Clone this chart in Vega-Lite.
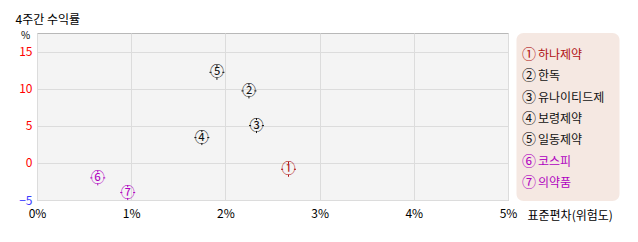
{
  "$schema": "https://vega.github.io/schema/vega-lite/v6.json",
  "autosize": {"type": "pad"},
  "padding": {"left": 15, "top": 13, "right": 12, "bottom": 8},
  "background": "#ffffff",
  "config": {"font": "Noto Sans CJK KR", "view": {"stroke": null}},
  "bounds": "flush",
  "spacing": 8.5,
  "data": {
    "values": [
      {"n": 1, "mark": "①", "name": "하나제약", "grp": "대상", "sd": 2.67, "ret": -0.86},
      {"n": 2, "mark": "②", "name": "한독", "grp": "비교", "sd": 2.25, "ret": 9.7},
      {"n": 3, "mark": "③", "name": "유나이티드제", "grp": "비교", "sd": 2.33, "ret": 5.03},
      {"n": 4, "mark": "④", "name": "보령제약", "grp": "비교", "sd": 1.75, "ret": 3.41},
      {"n": 5, "mark": "⑤", "name": "일동제약", "grp": "비교", "sd": 1.91, "ret": 12.2},
      {"n": 6, "mark": "⑥", "name": "코스피", "grp": "시장", "sd": 0.645, "ret": -2.02},
      {"n": 7, "mark": "⑦", "name": "의약품", "grp": "시장", "sd": 0.963, "ret": -4.0}
    ]
  },
  "hconcat": [
    {
      "width": 471,
      "height": 167,
      "title": {"text": "4주간 수익률", "anchor": "start", "frame": "group", "dx": -21.5, "fontSize": 12, "fontWeight": "normal", "color": "#000000", "offset": 3},
      "view": {"fill": "#f4f4f4", "stroke": "#b8b8b8"},
      "layer": [
        {
          "mark": {"type": "point", "shape": "M0,-1L0,-0.72M0,1L0,0.72M-1,0L-0.72,0M1,0L0.72,0", "filled": false, "strokeWidth": 1, "size": 225, "opacity": 1},
          "encoding": {
            "x": {
              "field": "sd", "type": "quantitative",
              "scale": {"domain": [0, 5], "nice": false},
              "axis": {
                "values": [0, 1, 2, 3, 4, 5], "labelExpr": "datum.value + '%'",
                "ticks": false, "domain": false, "grid": true, "gridColor": "#dcdcdc",
                "labelPadding": 8, "labelFontSize": 12, "labelColor": "#000000", "labelFlush": false,
                "title": "표준편차(위험도)", "titleFontSize": 12, "titleFontWeight": "normal", "titleColor": "#000000",
                "titleX": 490, "titleY": 15, "titleAnchor": "start", "titleAlign": "left", "titleBaseline": "middle"
              }
            },
            "y": {
              "field": "ret", "type": "quantitative",
              "scale": {"domain": [-5, 17.5], "nice": false},
              "axis": {
                "values": [-5, 0, 5, 10, 15], "ticks": false, "domain": false, "grid": true, "gridColor": "#dcdcdc",
                "labelPadding": 5, "labelFontSize": 12, "labelFlush": false,
                "labelColor": {"condition": {"test": "datum.value < 0", "value": "#3a3aff"}, "value": "#ff0000"},
                "title": "%", "titleAngle": 0, "titleX": -12, "titleY": 2, "titleAlign": "center", "titleBaseline": "middle",
                "titleFontWeight": "normal", "titleFontSize": 10, "titleColor": "#000000"
              }
            },
            "color": {"field": "grp", "type": "nominal", "scale": {"domain": ["대상", "비교", "시장"], "range": ["#b01010", "#111111", "#b000c0"]}, "legend": null}
          }
        },
        {
          "mark": {"type": "text", "fontSize": 14, "baseline": "middle", "align": "center"},
          "encoding": {
            "x": {"field": "sd", "type": "quantitative"},
            "y": {"field": "ret", "type": "quantitative"},
            "text": {"field": "mark"},
            "color": {"field": "grp", "type": "nominal", "legend": null}
          }
        }
      ]
    },
    {
      "width": 103,
      "height": 168,
      "view": {"fill": "#f5e8e2", "stroke": null, "cornerRadius": 7},
      "encoding": {
        "y": {"field": "n", "type": "quantitative", "scale": {"domain": [-0.031, 7.844], "reverse": true, "nice": false, "zero": false}, "axis": null},
        "color": {"field": "grp", "type": "nominal", "legend": null}
      },
      "layer": [
        {
          "mark": {"type": "text", "align": "left", "baseline": "middle", "fontSize": 14, "dx": -46},
          "encoding": {"text": {"field": "mark"}}
        },
        {
          "mark": {"type": "text", "align": "left", "baseline": "middle", "fontSize": 12, "dx": -30},
          "encoding": {"text": {"field": "name"}}
        }
      ]
    }
  ]
}
